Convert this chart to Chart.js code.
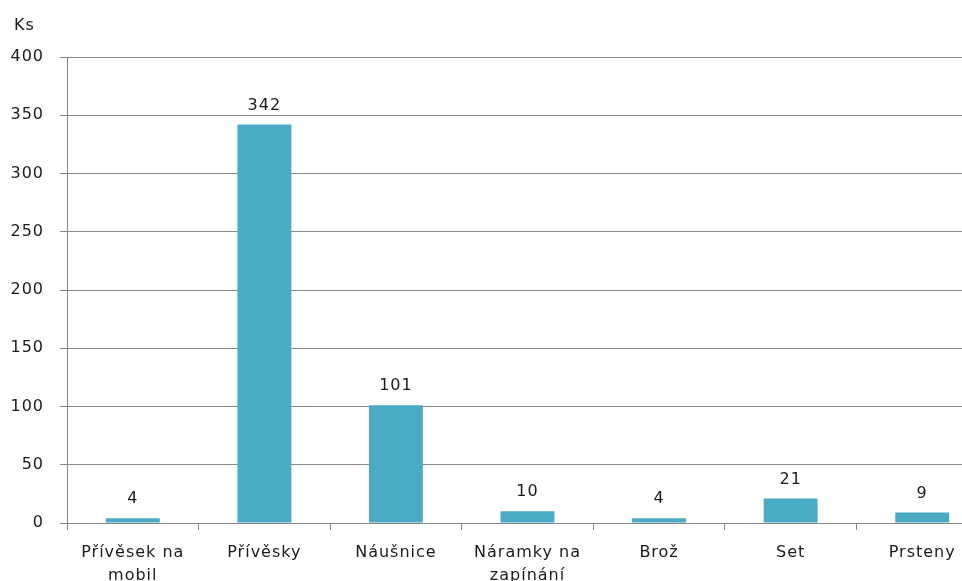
<!DOCTYPE html>
<html>
<head>
<meta charset="utf-8">
<script src="https://cdn.jsdelivr.net/npm/chart.js@4"></script>
<style>
  html, body { margin: 0; padding: 0; background: #fff; overflow: hidden; }
  #wrap { width: 990px; height: 581px; position: relative; }
</style>
</head>
<body>
<div id="wrap"><canvas id="c"></canvas></div>
<script>
// Sold pieces per product category
const categories = [
  ['Přívěsek na', 'mobil'],
  'Přívěsky',
  'Náušnice',
  ['Náramky na', 'zapínání'],
  'Brož',
  'Set',
  'Prsteny'
];
const pieces = [4, 342, 101, 10, 4, 21, 9];
const yTicks = [0, 50, 100, 150, 200, 250, 300, 350, 400];
const unitLabel = 'Ks';

const FONT = 'DejaVu Sans, Verdana, sans-serif';
const GRID = '#868686';
const TEXT = '#1a1a1a';

// Slightly wider letter spacing for all canvas text
const spacing = {
  id: 'spacing',
  beforeUpdate(chart) { chart.ctx.letterSpacing = '1px'; },
  beforeDraw(chart) { chart.ctx.letterSpacing = '1px'; }
};

// Writes each bar's value above it, plus the unit label at the top left
const valueLabels = {
  id: 'valueLabels',
  afterDatasetsDraw(chart) {
    const ctx = chart.ctx;
    ctx.save();
    ctx.letterSpacing = '1px';
    ctx.font = '16px ' + FONT;
    ctx.fillStyle = TEXT;
    ctx.textAlign = 'center';
    ctx.textBaseline = 'alphabetic';
    chart.getDatasetMeta(0).data.forEach((bar, i) => {
      ctx.fillText(String(pieces[i]), bar.x, bar.y - 15);
    });
    ctx.textAlign = 'left';
    ctx.fillText(unitLabel, 14, 30);
    ctx.restore();
  }
};

new Chart(document.getElementById('c'), {
  type: 'bar',
  data: {
    labels: categories,
    datasets: [{
      data: pieces,
      backgroundColor: '#4aabc5',
      borderWidth: 0,
      barPercentage: 0.41,
      categoryPercentage: 1
    }]
  },
  options: {
    responsive: true,
    maintainAspectRatio: false,
    animation: false,
    layout: { padding: { top: 57, right: 2, left: 0, bottom: 0 } },
    plugins: { legend: { display: false }, tooltip: { enabled: false } },
    scales: {
      x: {
        grid: {
          offset: true,
          drawOnChartArea: false,
          drawTicks: true,
          tickLength: 7,
          color: GRID
        },
        border: { color: GRID, width: 1 },
        ticks: {
          color: TEXT,
          font: { family: FONT, size: 16, lineHeight: 1.4 },
          padding: 12,
          maxRotation: 0,
          autoSkip: false
        },
        afterFit(scale) { scale.height = 58; }
      },
      y: {
        min: 0,
        max: 400,
        afterBuildTicks(scale) { scale.ticks = yTicks.map(v => ({ value: v })); },
        grid: { color: GRID, tickLength: 7, lineWidth: 1 },
        border: { color: GRID, width: 1 },
        ticks: {
          color: TEXT,
          font: { family: FONT, size: 16 },
          padding: 16
        },
        afterFit(scale) { scale.width = 67; }
      }
    }
  },
  plugins: [spacing, valueLabels]
});
</script>
</body>
</html>
